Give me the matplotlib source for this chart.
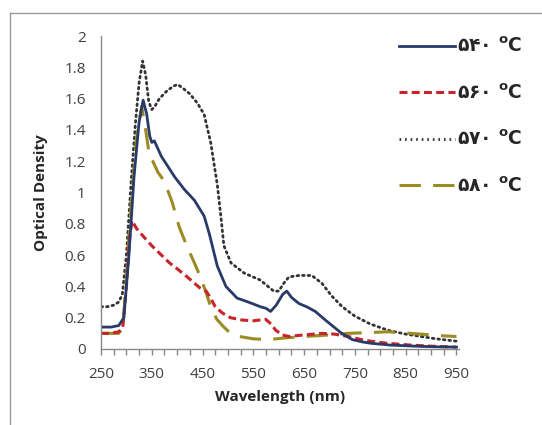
import matplotlib
matplotlib.use("Agg")
import matplotlib.pyplot as plt
from matplotlib.lines import Line2D
import numpy as np

# ---- data ----
wl_540 = [250, 270, 285, 295, 305, 315, 325, 333, 340, 346, 350, 355, 369, 395, 414, 434, 453, 463,
          479, 496, 518, 540, 564, 575, 584, 595, 608, 616, 625, 640, 655, 672, 690, 705, 724, 745,
          765, 783, 820, 870, 910, 950]
od_540 = [0.14, 0.14, 0.15, 0.20, 0.60, 1.10, 1.45, 1.59, 1.50, 1.36, 1.32, 1.33, 1.23, 1.10, 1.02,
          0.95, 0.85, 0.74, 0.53, 0.40, 0.325, 0.30, 0.27, 0.26, 0.24, 0.28, 0.35, 0.37, 0.33, 0.29,
          0.27, 0.24, 0.19, 0.15, 0.10, 0.06, 0.045, 0.036, 0.025, 0.018, 0.014, 0.012]

wl_560 = [250, 270, 285, 293, 300, 306, 311, 320, 336, 350, 369, 385, 401, 420, 434, 445, 457, 465,
          475, 489, 505, 528, 550, 574, 585, 594, 607, 620, 650, 685, 710, 737, 770, 815, 860, 900, 950]
od_560 = [0.10, 0.10, 0.11, 0.14, 0.40, 0.70, 0.82, 0.77, 0.71, 0.66, 0.60, 0.55, 0.51, 0.46, 0.42,
          0.39, 0.37, 0.33, 0.27, 0.23, 0.20, 0.185, 0.18, 0.19, 0.16, 0.12, 0.09, 0.08, 0.09, 0.10,
          0.095, 0.08, 0.055, 0.036, 0.025, 0.018, 0.012]

wl_570 = [250, 262, 275, 285, 292, 300, 310, 318, 325, 332, 338, 344, 350, 356, 365, 380, 393, 401,
          410, 425, 440, 453, 466, 479, 486, 492, 506, 532, 564, 575, 590, 600, 610, 620, 640, 665,
          685, 704, 725, 750, 780, 815, 850, 880, 910, 950]
od_570 = [0.27, 0.27, 0.28, 0.30, 0.35, 0.60, 1.10, 1.45, 1.70, 1.84, 1.75, 1.58, 1.53, 1.55, 1.60,
          1.65, 1.68, 1.69, 1.67, 1.63, 1.57, 1.50, 1.32, 1.05, 0.85, 0.66, 0.55, 0.485, 0.44, 0.41,
          0.37, 0.37, 0.42, 0.46, 0.47, 0.47, 0.42, 0.34, 0.27, 0.21, 0.16, 0.12, 0.095, 0.08, 0.065,
          0.05]

wl_580 = [250, 270, 285, 293, 300, 310, 320, 330, 338, 346, 352, 362, 375, 390, 404, 420, 434, 447,
          457, 466, 478, 492, 505, 522, 550, 580, 610, 652, 700, 737, 780, 815, 860, 900, 919, 950]
od_580 = [0.10, 0.10, 0.10, 0.14, 0.45, 0.95, 1.35, 1.55, 1.40, 1.22, 1.20, 1.13, 1.07, 0.94, 0.78,
          0.65, 0.55, 0.45, 0.36, 0.27, 0.19, 0.14, 0.10, 0.08, 0.065, 0.06, 0.07, 0.08, 0.09, 0.10,
          0.105, 0.11, 0.10, 0.09, 0.085, 0.08]

labels = ["۵۴۰ $^{\\mathbf{o}}$C", "۵۶۰ $^{\\mathbf{o}}$C", "۵۷۰ $^{\\mathbf{o}}$C", "۵۸۰ $^{\\mathbf{o}}$C"]
x_ticks = [250, 350, 450, 550, 650, 750, 850, 950]
y_ticks = [0, 0.2, 0.4, 0.6, 0.8, 1, 1.2, 1.4, 1.6, 1.8, 2]
y_ticklabels = ["0", "0.2", "0.4", "0.6", "0.8", "1", "1.2", "1.4", "1.6", "1.8", "2"]

W, H = 542, 425
fig = plt.figure(figsize=(W / 100, H / 100), dpi=100)
ax = fig.add_axes([101 / W, 1 - 349 / H, (459 - 101) / W, (349 - 36) / H])

c_blue = "#283A68"
c_red = "#C8242C"
c_dot = "#333333"
c_olive = "#9A8B25"

ax.plot(wl_570, od_570, color=c_dot, lw=2.0, linestyle=(0, (0.6, 1.4)), dash_capstyle="round",
        solid_joinstyle="round")
ax.plot(wl_580, od_580, color=c_olive, lw=2.2, linestyle=(0, (7, 4)))
ax.plot(wl_560, od_560, color=c_red, lw=2.2, linestyle=(0, (2.6, 1.4)))
ax.plot(wl_540, od_540, color=c_blue, lw=2.0)

ax.set_xlim(250, 955)
ax.set_ylim(0, 2)
ax.set_xticks(x_ticks)
ax.set_xticks(np.arange(250, 951, 25), minor=True)
ax.set_yticks(y_ticks)
ax.set_yticklabels(y_ticklabels)

for lab in ax.get_xticklabels() + ax.get_yticklabels():
    lab.set_fontfamily(["Open Sans", "DejaVu Sans"])
    lab.set_fontsize(11)
    lab.set_color("#404040")

ax.tick_params(axis="x", which="both", direction="out", length=4, width=1, color="#888888", pad=9)
ax.tick_params(axis="y", which="both", length=0, pad=11)

for s in ["top", "right"]:
    ax.spines[s].set_visible(False)
for s in ["left", "bottom"]:
    ax.spines[s].set_color("#888888")
    ax.spines[s].set_linewidth(1)

ax.set_xlabel("Wavelength (nm)", fontsize=11, fontweight="bold", color="#262626",
              family=["Open Sans", "DejaVu Sans"], labelpad=6)
ax.set_ylabel("Optical Density", fontsize=11, fontweight="bold", color="#262626",
              family=["Open Sans", "DejaVu Sans"], labelpad=12)

handles = [
    Line2D([], [], color=c_blue, lw=2.0),
    Line2D([], [], color=c_red, lw=2.2, linestyle=(0, (2.6, 1.4))),
    Line2D([], [], color=c_dot, lw=2.0, linestyle=(0, (0.6, 1.4))),
    Line2D([], [], color=c_olive, lw=2.2, linestyle=(0, (7, 4))),
]
leg = fig.legend(handles, labels, loc="upper left", bbox_to_anchor=(382 / W, 1 - 20 / H),
                 frameon=False, handlelength=3.0, handletextpad=0.1, labelspacing=1.45,
                 prop=dict(family=["DejaVu Sans"], weight="bold", size=13.5))
for t in leg.get_texts():
    t.set_color("#262626")

# chart-area border (left and top edges)
fig.add_artist(Line2D([10 / W, 10 / W], [0, 1 - 13 / H], transform=fig.transFigure,
                      color="#999999", lw=1))
fig.add_artist(Line2D([10 / W, 1], [1 - 13 / H, 1 - 13 / H], transform=fig.transFigure,
                      color="#999999", lw=1))

fig.savefig("out.png", dpi=100)
